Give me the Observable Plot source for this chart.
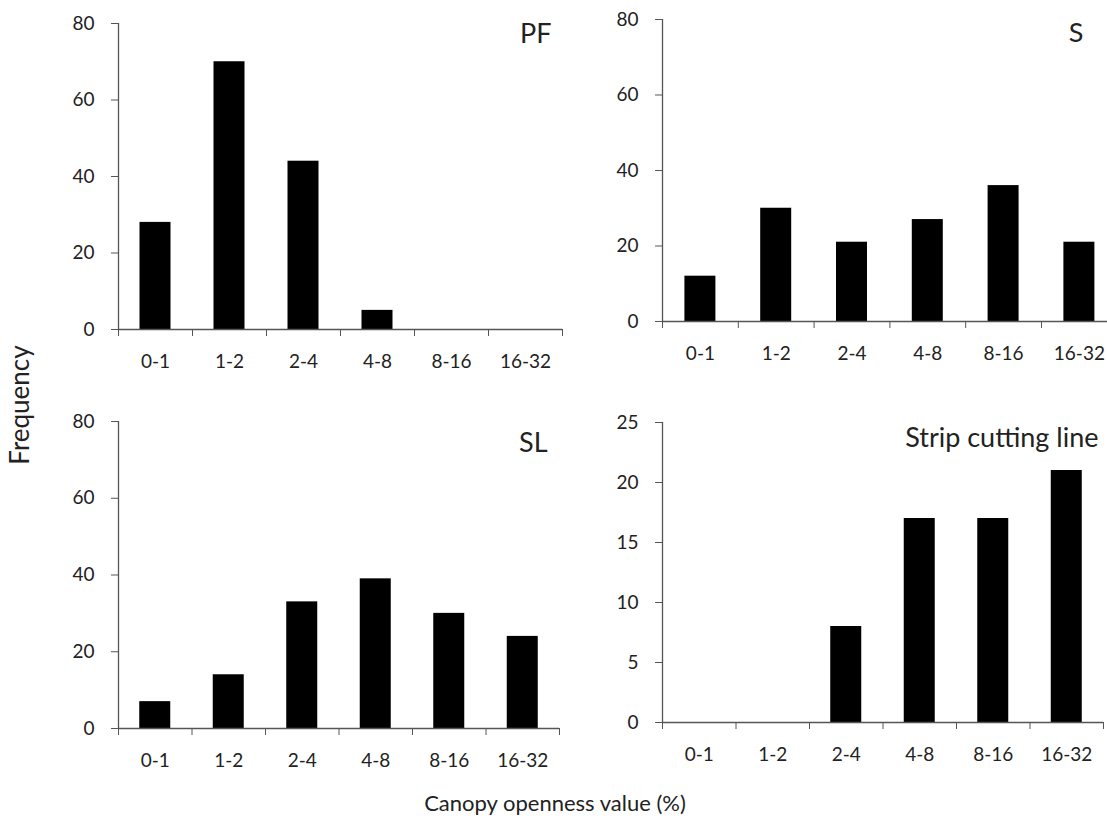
<!DOCTYPE html>
<html>
<head>
<meta charset="utf-8">
<script src="https://cdn.jsdelivr.net/npm/d3@7"></script>
<script src="https://cdn.jsdelivr.net/npm/@observablehq/plot@0.6"></script>
<style>
  html, body { margin: 0; padding: 0; background: #fff; }
  #wrap { position: relative; width: 1107px; height: 832px; overflow: hidden; font-family: Lato, "Open Sans", sans-serif; color: #222; }
  .panel { position: absolute; }
  .panel svg { overflow: visible; max-width: none !important; }
  #ylab { position: absolute; left: 19px; top: 405px; transform: translate(-50%, -50%) rotate(-90deg); font-size: 26px; white-space: nowrap; }
  #xlab { position: absolute; left: 555px; top: 802px; transform: translate(-50%, -50%); font-size: 22px; white-space: nowrap; }
</style>
</head>
<body>
<div id="wrap">
  <div id="ylab">Frequency</div>
  <div id="xlab">Canopy openness value (%)</div>
</div>
<script>
// ---- data ----
const categories = ["0-1", "1-2", "2-4", "4-8", "8-16", "16-32"];
const pfValues = [28, 70, 44, 5, 0, 0];
const sValues = [12, 30, 21, 27, 36, 21];
const slValues = [7, 14, 33, 39, 30, 24];
const stripValues = [0, 0, 8, 17, 17, 21];
const yTicks80 = [0, 20, 40, 60, 80];
const yTicks25 = [0, 5, 10, 15, 20, 25];
const panelLabels = ["PF", "S", "SL", "Strip cutting line"];

// ---- layout ----
const panels = [
  {label: panelLabels[0], values: pfValues, yMax: 80, yTicks: yTicks80, left: 0, top: 0, mL: 118, step: 74, mT: 23, y0: 329, h: 380, ldx: -11, ldy: 11},
  {label: panelLabels[1], values: sValues, yMax: 80, yTicks: yTicks80, left: 560, top: 0, mL: 102, step: 75.8, mT: 19, y0: 321, h: 375, ldx: -34, ldy: 14},
  {label: panelLabels[2], values: slValues, yMax: 80, yTicks: yTicks80, left: 0, top: 400, mL: 118, step: 73.5, mT: 21, y0: 328, h: 380, ldx: -12, ldy: 22},
  {label: panelLabels[3], values: stripValues, yMax: 25, yTicks: yTicks25, left: 560, top: 400, mL: 102, step: 73.5, mT: 22, y0: 322, h: 376, ldx: -5, ldy: 16}
];

const axisColor = "#555";
const textColor = "#222";
const barWidth = 31;
const tickFont = 19;
const labelFont = 27;
const wrap = document.getElementById("wrap");

for (const p of panels) {
  const n = categories.length;
  const frameW = p.step * n;
  const width = p.mL + frameW + 10;
  const data = categories.map((c, i) => ({i, c, v: p.values[i]}));
  const inset = (p.step - barWidth) / 2;
  const chart = Plot.plot({
    width,
    height: p.h,
    marginLeft: p.mL,
    marginRight: 10,
    marginTop: p.mT,
    marginBottom: p.h - p.y0,
    style: {fontFamily: "Lato, 'Open Sans', sans-serif", fontSize: tickFont + "px", color: textColor, background: "transparent", overflow: "visible", maxWidth: "none"},
    x: {type: "linear", domain: [0, n], axis: null},
    y: {domain: [0, p.yMax], axis: null},
    marks: [
      Plot.rectY(data, {x1: "i", x2: d => d.i + 1, y: "v", fill: "black", insetLeft: inset, insetRight: inset}),
      Plot.axisY({ticks: p.yTicks, label: null, tickSize: 7, tickPadding: 17, stroke: axisColor, fill: textColor, fontSize: tickFont, tickFormat: d => String(d)}),
      Plot.axisX({ticks: d3.range(0, n + 1), label: null, tickSize: 7, tickFormat: () => "", stroke: axisColor}),
      Plot.axisX({ticks: d3.range(0, n).map(i => i + 0.5), label: null, tickSize: 0, tickPadding: 25, fill: textColor, fontSize: tickFont, tickFormat: d => categories[Math.floor(d)]}),
      Plot.ruleX([0], {stroke: axisColor, strokeWidth: 1.3}),
      Plot.ruleY([0], {stroke: axisColor, strokeWidth: 1.3}),
      Plot.text([p.label], {frameAnchor: "top-right", dx: p.ldx, dy: p.ldy, textAnchor: "end", lineAnchor: "middle", fontSize: labelFont, fill: textColor})
    ]
  });
  const div = document.createElement("div");
  div.className = "panel";
  div.style.left = p.left + "px";
  div.style.top = p.top + "px";
  div.style.width = width + "px";
  div.style.height = p.h + "px";
  div.appendChild(chart);
  wrap.appendChild(div);
}
</script>
</body>
</html>
